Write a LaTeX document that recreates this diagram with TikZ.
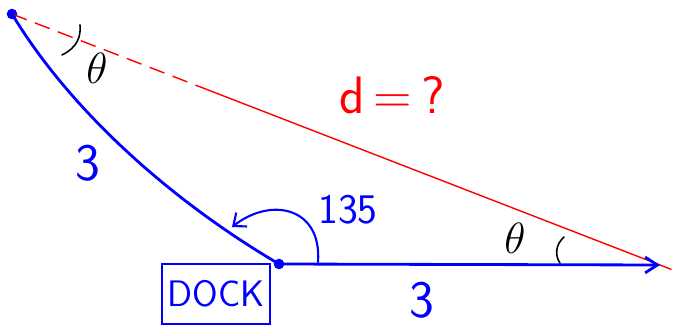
\documentclass[tikz,border=0pt]{standalone}
\usepackage{amsmath}
\usepackage{tikz}
\usetikzlibrary{arrows.meta, positioning, calc}

\begin{document}
\begin{tikzpicture}[x=0.02cm, y=-0.02cm,
  trip/.style={blue, line width=1.6pt, line cap=round},
  dist/.style={red, line width=0.8pt},
  tick/.style={black, line width=0.9pt, line cap=round},
  big/.style={font=\fontsize{30}{30}\selectfont\sffamily},
  dot/.style={circle, fill=blue, inner sep=0pt, minimum size=6pt}]
  \useasboundingbox (0,0) rectangle (673,328);

  % Points
  \node[dot] (ship) at (12,14) {};
  \node[dot] (dock) at (279,264) {};
  \coordinate (tip) at (660,265);
  \coordinate (mid) at ($(ship)!0.3!(tip)$);
  \coordinate (turn) at (318,262);

  % Distance d (unknown)
  \draw[dist, dashed, dash pattern=on 9pt off 5pt] (ship.center) -- (mid);
  \draw[dist, shorten >=-7pt] (mid) -- (tip);

  % Path of the boat
  \draw[trip] (ship.center) .. controls (70,110) and (170,200) .. (dock.center);
  \draw[trip, -{Straight Barb[length=7pt, width=9pt]}] (dock.center) -- (tip);

  % Angle 135
  \draw[trip, line width=1.2pt, -{Straight Barb[length=6pt, width=10pt]}]
    (turn) .. controls (322,208) and (272,196) .. (232,227);
  \node[blue, font=\fontsize{24}{24}\selectfont\sffamily] (ang) at (348,210) {135};

  % Angle marks
  \draw[tick] (62,55) .. controls (78,47) and (81,36) .. (80,25);
  \draw[tick] (564,237) .. controls (555,245) and (555,256) .. (560,263);
  \node[font=\fontsize{25}{25}\selectfont] (thA) at (97,68) {$\theta$};
  \node[font=\fontsize{25}{25}\selectfont] (thB) at (515,238) {$\theta$};

  % Labels
  \node[big, blue] (sideA) at (88,163) {3};
  \node[big, blue] (sideB) at (422,300) {3};
  \node[red, font=\fontsize{30}{30}\selectfont\sffamily] (dq) at (392,95) {d\,=\,?};
  \node[draw=blue, line width=1pt, blue, minimum width=2.06cm, minimum height=1.2cm,
    font=\fontsize{21}{21}\selectfont\sffamily] (box) at (216,294) {DOCK};
\end{tikzpicture}
\end{document}
